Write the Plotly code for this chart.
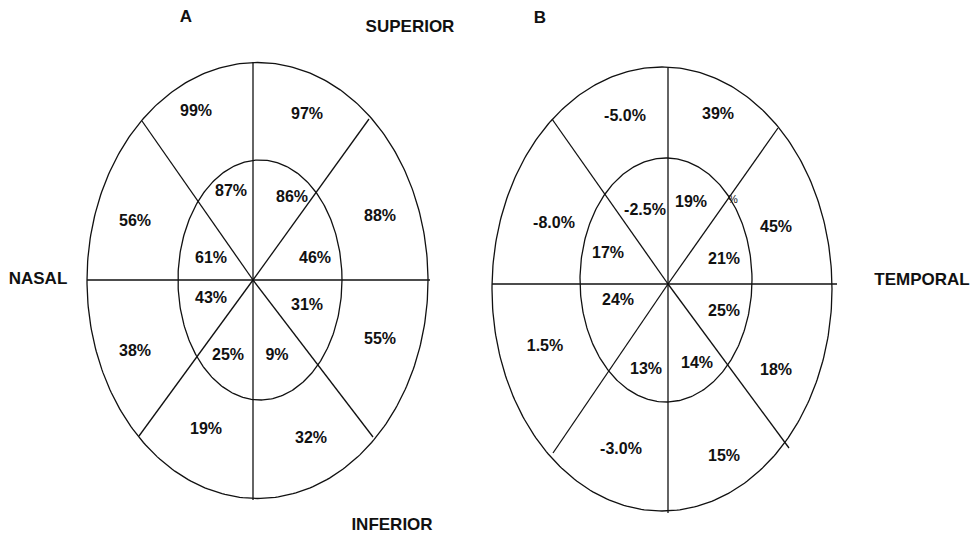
import numpy as np
import plotly.graph_objects as go

# ---------------- data ----------------
# sectors, clockwise starting at the superior-nasal (upper-left) sector
sectors = ["sup-left", "sup-right", "right-upper", "right-lower",
           "inf-right", "inf-left", "left-lower", "left-upper"]
A_outer = [99, 97, 88, 55, 32, 19, 38, 56]
A_inner = [87, 86, 46, 31, 9, 25, 43, 61]
B_outer = [-5.0, 39, 45, 18, 15, -3.0, 1.5, -8.0]
B_inner = [-2.5, 19, 21, 25, 14, 13, 24, 17]
panel_titles = ["A", "B"]
direction_labels = ["SUPERIOR", "NASAL", "INFERIOR", "TEMPORAL"]

# ---------------- layout geometry (pixels of the 970x533 canvas) ----------------
A_geom = dict(cx=253, cy=280,
              outer=(257.5, 280.5, 170.5, 218),
              inner=(260, 280, 82, 120),
              vline=(62, 500), hline=(87, 430),
              spokes=[(-111, -159), (116, -161), (-114, 156), (120, 157)])
B_geom = dict(cx=668, cy=284,
              outer=(662, 289, 170, 222),
              inner=(666, 280, 86, 122),
              vline=(68, 513), hline=(492, 837),
              spokes=[(-116, -165), (110, -156), (-115, 169), (121, 164)])

A_outer_pos = [(196, 112), (307, 115), (380, 217), (380, 340),
               (311, 439), (206, 430), (135, 352), (135, 222)]
A_inner_pos = [(231, 192), (292, 198), (315, 259), (307, 306),
               (277, 356), (228, 356), (211, 299), (211, 259)]
B_outer_pos = [(625, 117), (718, 115), (776, 228), (776, 371),
               (724, 457), (621, 450), (545, 347), (554, 224)]
B_inner_pos = [(645, 211), (691, 203), (724, 260), (724, 312),
               (697, 364), (646, 370), (618, 301), (608, 254)]

title_pos = [(186, 18), (540, 19)]
direction_pos = [(410, 28), (38, 280), (392, 526), (922, 281)]

FONT = "Liberation Sans, Arial, sans-serif"
LINE = dict(color="#111111", width=1.3)

fig = go.Figure()


def ellipse(cx, cy, rx, ry):
    t = np.linspace(0, 2 * np.pi, 361)
    return cx + rx * np.cos(t), cy + ry * np.sin(t)


def draw_panel(g):
    for e in (g["outer"], g["inner"]):
        x, y = ellipse(*e)
        fig.add_trace(go.Scatter(x=x, y=y, mode="lines", line=LINE,
                                 hoverinfo="skip", showlegend=False))
    cx, cy = g["cx"], g["cy"]
    xs, ys = [], []
    xs += [cx, cx, None]; ys += [g["vline"][0], g["vline"][1], None]
    xs += [g["hline"][0], g["hline"][1], None]; ys += [cy, cy, None]
    for dx, dy in g["spokes"]:
        xs += [cx, cx + dx, None]; ys += [cy, cy + dy, None]
    fig.add_trace(go.Scatter(x=xs, y=ys, mode="lines", line=LINE,
                             hoverinfo="skip", showlegend=False))


def fmt(v, decimals_small):
    if decimals_small and abs(v) < 10:
        return f"{v:.1f}%"
    return f"{v:.0f}%"


def add_labels(values, positions, decimals_small):
    fig.add_trace(go.Scatter(
        x=[p[0] for p in positions], y=[p[1] for p in positions],
        text=[fmt(v, decimals_small) for v in values],
        customdata=sectors,
        mode="text", textposition="middle center",
        textfont=dict(family=FONT, size=16, color="#111111", weight="bold"),
        hoverinfo="skip", showlegend=False))


draw_panel(A_geom)
draw_panel(B_geom)
add_labels(A_outer, A_outer_pos, False)
add_labels(A_inner, A_inner_pos, False)
add_labels(B_outer, B_outer_pos, True)
add_labels(B_inner, B_inner_pos, True)

# small stray "%" fragment visible in the original near the B superior-temporal spoke
fig.add_trace(go.Scatter(x=[733], y=[200], text=["%"], mode="text",
                         textposition="middle center",
                         textfont=dict(family=FONT, size=11, color="#111111"),
                         hoverinfo="skip", showlegend=False))

fig.add_trace(go.Scatter(
    x=[p[0] for p in title_pos], y=[p[1] for p in title_pos],
    text=panel_titles, mode="text", textposition="middle center",
    textfont=dict(family=FONT, size=17, color="#111111", weight="bold"),
    hoverinfo="skip", showlegend=False))
fig.add_trace(go.Scatter(
    x=[p[0] for p in direction_pos], y=[p[1] for p in direction_pos],
    text=direction_labels, mode="text", textposition="middle center",
    textfont=dict(family=FONT, size=17, color="#111111", weight="bold"),
    hoverinfo="skip", showlegend=False))

fig.update_layout(
    width=970, height=533,
    margin=dict(l=0, r=0, t=0, b=0),
    paper_bgcolor="white", plot_bgcolor="white",
    xaxis=dict(range=[0, 970], visible=False, fixedrange=True),
    yaxis=dict(range=[533, 0], visible=False, fixedrange=True),
    showlegend=False,
)

fig.write_html(
    "out.html",
    config={"displayModeBar": False},
    post_script="document.body.style.margin='0px';document.body.style.overflow='hidden';",
)
